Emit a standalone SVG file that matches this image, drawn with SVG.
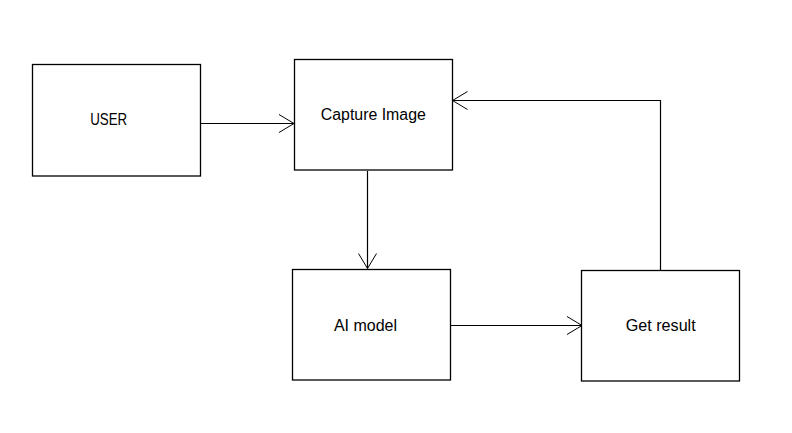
<svg xmlns="http://www.w3.org/2000/svg" width="792" height="433" viewBox="0 0 792 433">
<style>
.box{fill:#fff;stroke:#000;stroke-width:1.3}
.lbl{font-family:"Liberation Sans",Arial,sans-serif;font-size:16px;fill:#000;text-anchor:middle}
.con{fill:none;stroke:#000;stroke-width:1.2}
</style>
<defs>
<marker id="open" viewBox="-16 -10 18 20" refX="0" refY="0" markerWidth="18" markerHeight="20" markerUnits="userSpaceOnUse" orient="auto">
<path d="M-15,-9 L0,0 L-15,9" fill="none" stroke="#000" stroke-width="1"/>
</marker>
</defs>
<rect width="792" height="433" fill="#fff"/>
<g id="connectors">
<line class="con" x1="201" y1="123.5" x2="294" y2="123.5" marker-end="url(#open)"/>
<polyline class="con" points="367.5,171 367.5,268.5" marker-end="url(#open)"/>
<line class="con" x1="451" y1="325.5" x2="582" y2="325.5" marker-end="url(#open)"/>
<polyline class="con" points="660.5,270 660.5,100.5 452.5,100.5" marker-end="url(#open)"/>
</g>
<g id="user">
<rect class="box" x="32.5" y="64.5" width="168" height="111.5"/>
<text class="lbl" x="108.7" y="125" textLength="37" lengthAdjust="spacingAndGlyphs">USER</text>
</g>
<g id="capture">
<rect class="box" x="294.5" y="59.5" width="158" height="110.5"/>
<text class="lbl" x="373.3" y="120" textLength="105" lengthAdjust="spacingAndGlyphs">Capture Image</text>
</g>
<g id="aimodel">
<rect class="box" x="292.5" y="269.5" width="158" height="110.5"/>
<text class="lbl" x="365.5" y="330.5">AI model</text>
</g>
<g id="getresult">
<rect class="box" x="581.5" y="270.5" width="158" height="110.5"/>
<text class="lbl" x="660.7" y="330.5" textLength="70" lengthAdjust="spacingAndGlyphs">Get result</text>
</g>
</svg>
